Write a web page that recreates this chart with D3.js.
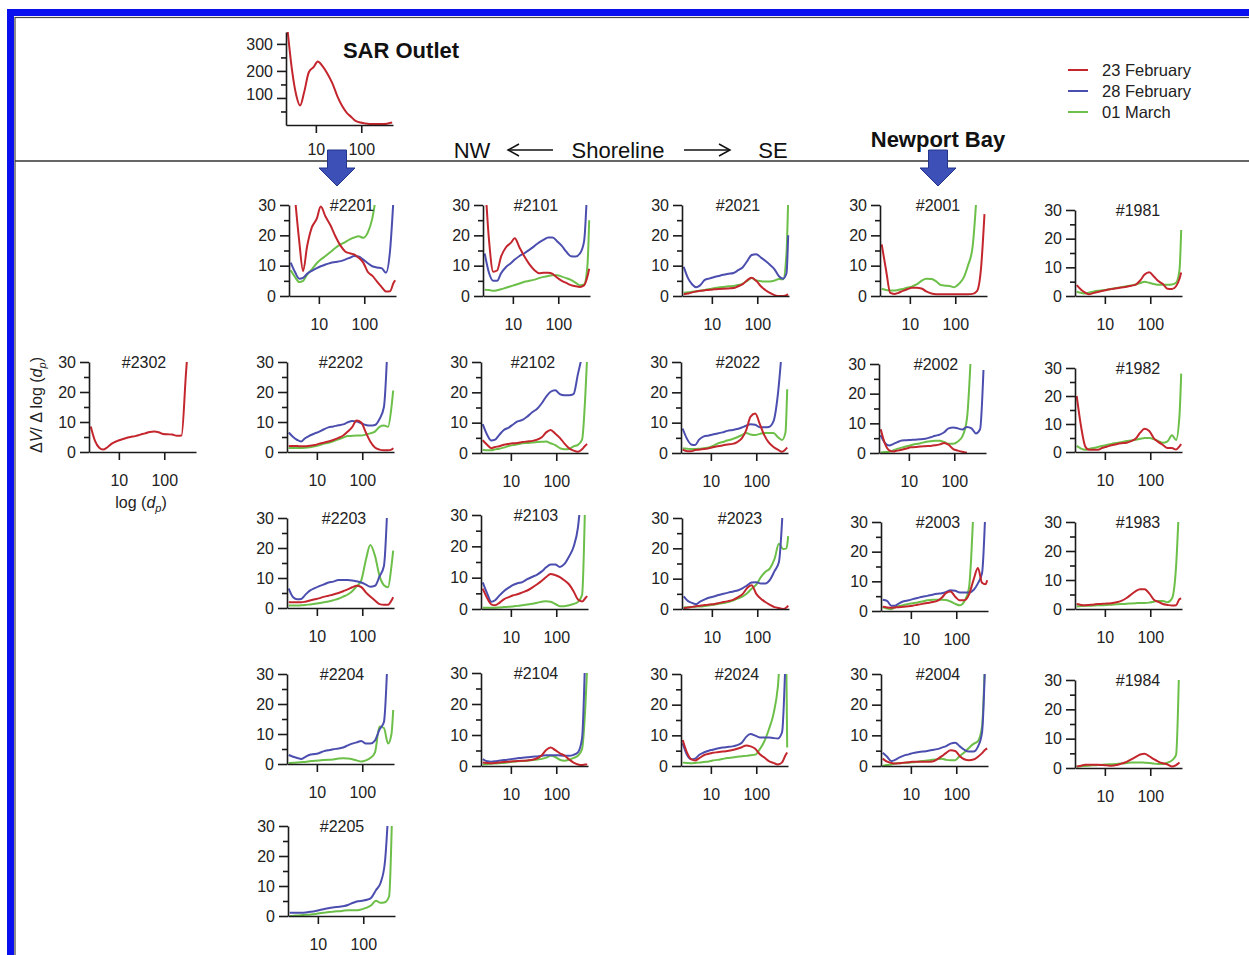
<!DOCTYPE html>
<html>
<head>
<meta charset="utf-8">
<script src="https://cdn.jsdelivr.net/npm/d3@7"></script>
<style>
  body { margin: 0; background: #fff; }
  svg { display: block; font-family: "Liberation Sans", Arial, sans-serif; }
</style>
</head>
<body>
<div id="chart"></div>
<script>
// particle diameter grid (nm), shared by every panel
const sizes = [2.4, 3, 3.7, 4.5, 5.5, 7, 9, 11, 14, 18, 23, 30, 38, 48, 60, 75, 95, 120, 150, 190, 240, 300, 370, 440, 480];
const dates = ["23 February", "28 February", "01 March"];
const xTicks = [10, 100];
const yTicks = [0, 10, 20, 30];
const yMinor = [5, 15, 25];
const sarTicks = [100, 200, 300];
const sarMinor = [50, 150, 250];

// SAR outlet (23 February only)
const sar = [345, 200, 110, 72, 120, 195, 215, 235, 218, 190, 155, 105, 70, 45, 30, 15, 9, 6, 4, 3.5, 3.5, 4, 5, 8, 9];

// each station: [23 Feb, 28 Feb, 01 Mar]
const st2302 = [
  [8.5, 3.6, 1.4, 0.8, 1.5, 2.8, 3.6, 4.1, 4.6, 5, 5.3, 5.8, 6.2, 6.7, 6.8, 6.6, 6, 5.9, 5.8, 5.4, 5.5, 26, 45, null, null],
  null, null];

const st2201 = [
  [null, 32, 18, 8.2, 16.3, 22.6, 25.5, 29.5, 26.2, 23.3, 19.8, 16.6, 14.7, 14.1, 13.7, 12.6, 11, 7.9, 6.7, 4.8, 3, 1.5, 1.6, 4.3, 5.2],
  [11, 7.8, 5.7, 6, 7.3, 8.3, 9.2, 9.8, 10.4, 10.9, 11.2, 11.5, 12, 12.6, 13.2, 13, 12, 10.8, 9.8, 9.4, 9.2, 7.7, 15, 32, null],
  [8.5, 6.2, 4.6, 5, 7, 8.8, 10.8, 12, 13.2, 14.5, 15.8, 17, 17.8, 18.7, 19.3, 19.7, 19.2, 21, 25.5, 35, null, null, null, null, null]];
const st2202 = [
  [2, 2, 2, 1.9, 1.9, 2.1, 2.3, 2.7, 3.1, 3.5, 4, 4.7, 5.5, 6.8, 8.3, 10.5, 9.8, 6.5, 3.5, 1.5, 0.8, 0.6, 0.6, 0.8, 1.3],
  [6.5, 5, 4, 3.5, 4.6, 5.5, 6.2, 6.7, 7.5, 8.2, 8.5, 8.9, 9.2, 9.9, 10.3, 10.2, 9.6, 9, 8.8, 9, 11, 15, 40, null, null],
  [1.3, 1.3, 1.3, 1.3, 1.4, 1.6, 1.9, 2.2, 2.7, 3.1, 3.6, 4.2, 4.8, 5.3, 5.4, 5.5, 5.5, 5.8, 6.2, 6.8, 8.4, 8.8, 8.4, 15, 20.5]];
const st2203 = [
  [1.9, 1.9, 1.9, 1.9, 2.1, 2.5, 2.9, 3.2, 3.7, 4.1, 4.5, 5, 5.6, 6.2, 6.9, 7.4, 7, 5.2, 3.8, 2.5, 1.3, 1.1, 1.1, 2.5, 3.6],
  [6.5, 3.6, 2.9, 3, 4.3, 5.8, 6.6, 7.2, 7.8, 8.5, 8.8, 9.3, 9.3, 9.3, 9.2, 8.9, 8.5, 7.8, 7.1, 7.4, 10.5, 14, 40, null, null],
  [0.8, 0.8, 0.8, 0.9, 1, 1.2, 1.4, 1.6, 1.9, 2.2, 2.6, 3.1, 3.8, 4.5, 5.6, 7.2, 9.2, 16, 21, 17.5, 10.7, 7.6, 6.9, 14, 19.1]];
const st2204 = [
  null,
  [3, 2.4, 2, 1.7, 2.3, 3.1, 3.3, 3.6, 4.2, 4.6, 4.9, 5.2, 5.5, 6.2, 6.8, 7.2, 7.7, 6.8, 6.8, 7.8, 11.5, 14, 40, null, null],
  [0.3, 0.4, 0.5, 0.6, 0.7, 0.9, 1.1, 1.2, 1.3, 1.4, 1.5, 1.8, 1.9, 1.8, 1.6, 1.2, 0.8, 1.2, 2, 3.8, 12.5, 12, 6.8, 10, 18]];
const st2205 = [
  null,
  [1.1, 1.1, 1.1, 1.1, 1.2, 1.4, 1.7, 2, 2.3, 2.7, 2.9, 3.1, 3.3, 3.8, 4.4, 4.9, 5.1, 5.4, 6.1, 8.6, 11, 18, 40, null, null],
  [0, 0.1, 0.2, 0.3, 0.4, 0.5, 0.7, 0.9, 1.1, 1.3, 1.5, 1.6, 1.8, 1.9, 1.9, 1.9, 2.3, 2.8, 3.6, 5.1, 4.4, 4.6, 6.5, 40, null]];

const st2101 = [
  [40, 18, 8, 8.4, 13, 16, 17.5, 19, 16, 13, 10.5, 8.5, 7.5, 7.7, 7.7, 7.3, 6, 5, 4.3, 3.6, 3.2, 3, 3.5, 6.5, 9],
  [14, 7.5, 5, 5, 7.5, 9.5, 10.8, 12, 13.2, 14.1, 15.2, 16.5, 17.7, 18.6, 19.3, 19.3, 18, 16.5, 14.6, 13.1, 13, 14, 18, 38, null],
  [2.1, 2, 1.7, 1.9, 2.2, 2.7, 3.2, 3.6, 4.1, 4.7, 5, 5.4, 5.9, 6.3, 6.6, 6.8, 6.8, 6.4, 5.9, 5.3, 4.4, 3.5, 3.8, 10.3, 25]];
const st2102 = [
  [4.2, 2.7, 1.6, 2, 2.2, 2.7, 3, 3.2, 3.3, 3.6, 3.8, 4, 4.4, 5.2, 6.8, 7.6, 6.4, 5, 3.2, 1.6, 0.8, 0.4, 1.2, 2.5, 2.9],
  [9.5, 6, 4.1, 4.4, 5.9, 7.6, 8.4, 9.3, 10.4, 10.9, 12, 13.5, 14.6, 16.4, 18.6, 20.2, 20.7, 19.4, 19, 19, 19.4, 26, 32, null, null],
  [1.1, 0.9, 0.9, 1.2, 1.4, 1.8, 2.3, 2.6, 2.9, 3.2, 3.3, 3.5, 3.6, 3.7, 3.8, 3.2, 2.6, 1.6, 1.2, 1.3, 2.2, 2.7, 4.4, 20, 32]];
const st2103 = [
  [6.5, 3.5, 1.5, 1.2, 1.9, 3.1, 3.8, 4.3, 4.7, 5.3, 5.9, 6.9, 7.9, 9, 10.2, 11.2, 10.8, 10.2, 9.2, 7.9, 5.7, 3, 2.4, 3.5, 4.1],
  [8.5, 5, 2.3, 2.8, 4.2, 5.7, 6.8, 7.6, 8.2, 8.6, 9.5, 10.3, 11, 12, 13.3, 14.2, 14.2, 13.4, 14.3, 16.7, 19.8, 26, 40, null, null],
  [0.4, 0.4, 0.4, 0.4, 0.5, 0.6, 0.7, 0.8, 1, 1.2, 1.4, 1.7, 2, 2.3, 2.5, 2.3, 1.6, 0.9, 0.9, 1.2, 1.6, 2.2, 4.5, 40, null]];
const st2104 = [
  [1.1, 1, 0.9, 1, 1.1, 1.3, 1.4, 1.5, 1.6, 1.7, 1.8, 2, 2.5, 3.5, 5.2, 6, 5.1, 4.1, 3.4, 2.2, 1.1, 0.5, 0.3, 0.5, 0.5],
  [2.2, 1.5, 1.4, 1.5, 1.7, 1.9, 2.1, 2.3, 2.5, 2.7, 2.8, 3, 3.1, 3.3, 3.5, 3.5, 3.5, 3.4, 3.3, 3.3, 3.6, 4.4, 9, 40, null],
  [0.5, 0.6, 0.7, 0.8, 0.9, 1, 1.2, 1.4, 1.5, 1.6, 1.7, 1.9, 2.1, 2.3, 2.7, 3.3, 2.9, 2, 1.7, 2, 2.6, 3.3, 5.5, 20, 32]];

const st2021 = [
  [0.6, 0.8, 1.2, 1.5, 1.7, 1.9, 2.1, 2.2, 2.3, 2.4, 2.5, 2.6, 3.2, 3.9, 5.2, 6, 5, 3.2, 2, 1, 0.3, 0, 0, 0.3, 0.5],
  [9.6, 5.8, 3.8, 2.9, 3.5, 5.3, 5.8, 6.2, 6.6, 7, 7.3, 7.6, 8.5, 9.5, 11.5, 13.5, 13.8, 12.7, 11.6, 10.3, 8.8, 6.5, 5.7, 7.5, 20],
  [1.1, 1.2, 1.4, 1.6, 1.7, 2, 2.3, 2.6, 2.8, 3, 3.2, 3.3, 3.6, 4.1, 5, 5.9, 5.1, 4.9, 4.8, 4.8, 5.1, 5.6, 5.5, 14, 32]];
const st2022 = [
  [1.1, 0.6, 0.6, 1, 1.1, 1.3, 1.6, 1.9, 2.2, 2.5, 2.8, 3, 3.6, 4.8, 7.5, 12, 13, 9.5, 5.9, 3.4, 2, 1.1, 0.4, 1.2, 1.8],
  [8, 4.6, 2.8, 2.6, 4.4, 5.5, 5.8, 6.1, 6.4, 6.8, 7.3, 7.6, 7.9, 8.4, 9, 9.5, 9.3, 8.5, 8.5, 8.6, 10.5, 19.5, 35, null, null],
  [1.5, 1.4, 1.3, 1.3, 1.4, 1.6, 1.8, 2.3, 3.1, 3.6, 4.1, 4.6, 5.2, 5.9, 6.6, 6.1, 5.9, 6.3, 6.6, 6.6, 6.6, 5.2, 4.3, 6.8, 21]];
const st2023 = [
  [0.3, 0.5, 0.7, 0.9, 1.1, 1.3, 1.5, 1.6, 1.9, 2.3, 2.6, 3.1, 3.9, 5, 6.9, 7.8, 5, 3.4, 2.3, 1.4, 0.6, 0.3, 0, 0.5, 1.1],
  [4.2, 2.6, 2, 1.6, 2.4, 3.2, 3.8, 4.1, 4.6, 5, 5.4, 5.8, 6.2, 6.9, 7.8, 8.7, 8.8, 8.4, 8.4, 9.6, 12.5, 15.5, 35, null, null],
  [0.5, 0.6, 0.7, 0.8, 0.8, 1, 1.2, 1.4, 1.7, 2, 2.3, 2.9, 3.5, 4.2, 5.2, 6.7, 8, 10.5, 12.2, 13.4, 16.5, 21.5, 19.8, 20, 24]];
const st2024 = [
  [8.5, 4.3, 2.2, 1.8, 2.5, 3.5, 4, 4.3, 4.5, 4.7, 4.9, 5.2, 5.6, 6.1, 6.7, 6.4, 5.6, 3.8, 2.8, 1.6, 1, 0.5, 1.2, 3.5, 4.4],
  [7.4, 3.6, 2.2, 2.4, 3.6, 4.4, 5, 5.3, 5.7, 6, 6.2, 6.4, 6.8, 7.6, 9.5, 10.4, 9.9, 9.3, 9.3, 9.3, 9.1, 9, 11, 35, null],
  [1.1, 1, 0.9, 1, 1.1, 1.3, 1.5, 1.8, 2, 2.3, 2.6, 2.8, 3, 3.2, 3.3, 3.5, 3.7, 5.5, 8, 12, 17, 26, 45, 45, 6]];

const st2001 = [
  [17, 8.4, 1, 0.7, 1, 1.7, 2.3, 2.7, 2.7, 2.5, 1.5, 0.8, 0.6, 0.6, 0.6, 0.6, 0.6, 0.6, 0.6, 0.6, 0.7, 1.6, 9.3, 27, null],
  null,
  [2.4, 2, 1.8, 1.8, 2, 2.3, 2.8, 3.1, 3.8, 5, 5.7, 5.6, 4.8, 3.6, 3.4, 3.3, 2.9, 4, 5.8, 10, 16, 35, null, null, null]];
const st2002 = [
  [8, 3, 0.9, 0.5, 0.8, 1.1, 1.5, 1.9, 2, 2.2, 2.3, 2.4, 2.6, 2.9, 3.4, 2.8, 1.3, 0.8, 0.4, 0.1, null, null, null, null, null],
  [6, 3.3, 2.5, 3, 3.6, 4.2, 4.3, 4.4, 4.5, 4.6, 4.8, 5.3, 5.8, 6.2, 7, 8.3, 8.6, 8.3, 7.9, 8.8, 8.3, 6.6, 8, 28, null],
  [0.2, 0.3, 0.4, 0.9, 1.4, 1.8, 2.3, 2.6, 3, 3.3, 3.7, 4, 4.1, 4.1, 3.7, 3.1, 3.1, 3.9, 5.5, 11.5, 38, null, null, null, null]];
const st2003 = [
  [1.4, 1.2, 1.1, 1.2, 1.3, 1.4, 1.6, 1.8, 2.1, 2.4, 2.7, 3, 3.4, 4.5, 6.1, 6.6, 4.8, 3.6, 3.6, 5.5, 10.5, 14.5, 9.5, 9, 10.4],
  [3.8, 3.4, 1.8, 1.8, 2.6, 3.3, 3.6, 4, 4.4, 4.8, 5.1, 5.5, 5.8, 6, 6.4, 7, 6.8, 6.2, 6.2, 6.2, 7.1, 9.3, 12.8, 35, null],
  [1.3, 0.8, 0.6, 1.2, 1.7, 2, 2.4, 2.6, 2.9, 3.2, 3.6, 3.8, 3.8, 3.8, 3.7, 3.2, 2.4, 1.9, 3.2, 7.6, 35, null, null, null, null]];
const st2004 = [
  [2.4, 1.4, 1, 0.8, 0.9, 1.1, 1.2, 1.4, 1.4, 1.4, 1.4, 1.5, 2.2, 3.2, 4.3, 5.1, 4.9, 3.2, 2.2, 1.9, 2.1, 3, 4.2, 5.4, 5.7],
  [4.3, 3, 1.6, 2, 2.7, 3.4, 3.8, 4.2, 4.5, 4.7, 4.9, 5.2, 5.5, 6, 6.5, 7.3, 7.6, 6.4, 5.3, 4.7, 4.7, 6.3, 11, 38, null],
  [0, 0.3, 0.5, 0.8, 0.9, 1, 1.1, 1.2, 1.4, 1.6, 1.8, 2, 2.2, 2.4, 2, 1.9, 1.9, 3.3, 4.4, 5.9, 7.2, 8.1, 13, 40, null]];

const st1981 = [
  [3.8, 2.2, 1.2, 0.6, 1, 1.4, 1.8, 2.1, 2.4, 2.7, 3, 3.2, 3.6, 4, 5.4, 7.5, 8.3, 6.8, 5.2, 4.2, 2.5, 2.4, 3.4, 6, 8.2],
  null,
  [1.5, 1.1, 0.9, 1.2, 1.5, 1.8, 2, 2.2, 2.5, 2.8, 3.1, 3.4, 3.7, 4, 4.5, 5, 4.6, 4.2, 3.9, 3.9, 3.9, 4, 4.6, 9, 23]];
const st1982 = [
  [20, 9, 2, 0.8, 0.8, 0.8, 1.5, 1.9, 2.4, 2.8, 3.1, 3.3, 3.9, 4.8, 6.9, 8.3, 7.5, 4.9, 3.6, 2.5, 1.4, 1.4, 0.9, 2, 2.8],
  null,
  [2.2, 1.2, 0.8, 1.1, 1.4, 1.8, 2.2, 2.5, 2.9, 3.2, 3.5, 3.9, 4.1, 4.4, 4.7, 5, 5, 4.6, 3.9, 3.3, 3.8, 6, 4.3, 13, 28]];
const st1983 = [
  [1.7, 1.4, 1.3, 1.4, 1.5, 1.7, 1.8, 1.9, 2, 2.3, 2.8, 3.8, 5, 6.2, 6.8, 6.8, 5.4, 3.2, 2.5, 1.7, 1.4, 1.2, 1.3, 3.4, 3.6],
  null,
  [0.9, 1, 1.1, 1.1, 1.2, 1.3, 1.3, 1.4, 1.5, 1.6, 1.7, 1.8, 1.9, 2, 2.1, 2.1, 2.2, 2.5, 2.8, 2.8, 2.3, 3.6, 14.6, 40, null]];
const st1984 = [
  [0.5, 0.8, 1.1, 1.1, 1.1, 1.1, 1, 0.9, 0.8, 1, 1.5, 2.1, 2.9, 3.8, 4.6, 4.9, 4, 3, 2.2, 1.6, 1.2, 0.5, 1, 1.9, null],
  null,
  [0.5, 0.6, 0.7, 0.8, 0.9, 1, 1.1, 1.2, 1.3, 1.4, 1.5, 1.7, 1.9, 1.9, 1.9, 1.8, 1.7, 1.5, 1.4, 1.4, 1.8, 2.6, 4.5, 40, null]];

// where each panel sits: y-axis x, pixel of 30, pixel of 0, title centre
const panels = [
  { name: "#2302", v: st2302, x: 89,   top: 362, bot: 452, tx: 144 },
  { name: "#2201", v: st2201, x: 289,  top: 205, bot: 296, tx: 352 },
  { name: "#2202", v: st2202, x: 287,  top: 362, bot: 452, tx: 341 },
  { name: "#2203", v: st2203, x: 287,  top: 518, bot: 608, tx: 344 },
  { name: "#2204", v: st2204, x: 287,  top: 674, bot: 764, tx: 342 },
  { name: "#2205", v: st2205, x: 288,  top: 826, bot: 916, tx: 342 },
  { name: "#2101", v: st2101, x: 483,  top: 205, bot: 296, tx: 536 },
  { name: "#2102", v: st2102, x: 481,  top: 362, bot: 453, tx: 533 },
  { name: "#2103", v: st2103, x: 481,  top: 515, bot: 609, tx: 536 },
  { name: "#2104", v: st2104, x: 481,  top: 673, bot: 766, tx: 536 },
  { name: "#2021", v: st2021, x: 682,  top: 205, bot: 296, tx: 738 },
  { name: "#2022", v: st2022, x: 681,  top: 362, bot: 453, tx: 738 },
  { name: "#2023", v: st2023, x: 682,  top: 518, bot: 609, tx: 740 },
  { name: "#2024", v: st2024, x: 681,  top: 674, bot: 766, tx: 737 },
  { name: "#2001", v: st2001, x: 880,  top: 205, bot: 296, tx: 938 },
  { name: "#2002", v: st2002, x: 879,  top: 364, bot: 453, tx: 936 },
  { name: "#2003", v: st2003, x: 881,  top: 522, bot: 611, tx: 938 },
  { name: "#2004", v: st2004, x: 881,  top: 674, bot: 766, tx: 938 },
  { name: "#1981", v: st1981, x: 1075, top: 210, bot: 296, tx: 1138 },
  { name: "#1982", v: st1982, x: 1075, top: 368, bot: 452, tx: 1138 },
  { name: "#1983", v: st1983, x: 1075, top: 522, bot: 609, tx: 1138 },
  { name: "#1984", v: st1984, x: 1075, top: 680, bot: 768, tx: 1138 }
];

const colors = ["#c4262e", "#4b4eae", "#6cbf48"];
const W = 1249, H = 955;
const xDomain = [2.2, 500];
const xWidth = 107;

const svg = d3.select("#chart").append("svg")
    .attr("width", W)
    .attr("height", H);

svg.append("rect").attr("width", W).attr("height", H).attr("fill", "#fff");

// blue frame + thin inner line
svg.append("rect")
    .attr("x", 10.5).attr("y", 12.5)
    .attr("width", 1300).attr("height", 1000)
    .attr("fill", "none").attr("stroke", "#0a0ff0").attr("stroke-width", 7);
svg.append("rect")
    .attr("x", 15).attr("y", 17.5)
    .attr("width", 1300).attr("height", 1000)
    .attr("fill", "none").attr("stroke", "#444").attr("stroke-width", 1.2);

// divider under the top strip
svg.append("line")
    .attr("x1", 15).attr("x2", W)
    .attr("y1", 161).attr("y2", 161)
    .attr("stroke", "#333").attr("stroke-width", 1.5);

function styleAxis(g) {
    g.selectAll("path, line").attr("stroke", "#1a1a1a").attr("stroke-width", 1.6);
    g.selectAll("text").attr("fill", "#222").attr("font-size", 16);
}

function drawAxes(g, x, y, yt, ym) {
    const xa = g.append("g")
        .attr("transform", "translate(0," + y.range()[0] + ")")
        .call(d3.axisBottom(x).tickValues(xTicks).tickSize(8).tickSizeOuter(0)
            .tickPadding(15).tickFormat(d3.format("d")));
    styleAxis(xa);
    const ya = g.append("g")
        .attr("transform", "translate(" + x.range()[0] + ",0)")
        .call(d3.axisLeft(y).tickValues(yt).tickSize(9).tickSizeOuter(0).tickPadding(4));
    styleAxis(ya);
    const yb = g.append("g")
        .attr("transform", "translate(" + x.range()[0] + ",0)")
        .call(d3.axisLeft(y).tickValues(ym).tickSize(5).tickFormat(""));
    yb.select(".domain").remove();
    styleAxis(yb);
}

function drawSeries(g, x, y, values, color, clipId) {
    const line = d3.line()
        .defined(d => d[1] != null)
        .x(d => x(d[0]))
        .y(d => y(d[1]))
        .curve(d3.curveMonotoneX);
    g.append("path")
        .datum(sizes.map((d, j) => [d, values[j]]))
        .attr("d", line)
        .attr("fill", "none")
        .attr("stroke", color)
        .attr("stroke-width", 2)
        .attr("stroke-linejoin", "round")
        .attr("clip-path", "url(#" + clipId + ")");
}

// small multiples
panels.forEach((p, k) => {
    const x = d3.scaleLog().domain(xDomain).range([p.x, p.x + xWidth]);
    const y = d3.scaleLinear().domain([0, 30]).range([p.bot, p.top]);
    const g = svg.append("g");
    const clipId = "clip" + k;
    g.append("clipPath").attr("id", clipId).append("rect")
        .attr("x", p.x).attr("y", p.top)
        .attr("width", xWidth + 4).attr("height", p.bot - p.top + 6);

    // green under blue under red
    [2, 1, 0].forEach(i => {
        if (p.v[i]) drawSeries(g, x, y, p.v[i], colors[i], clipId);
    });
    drawAxes(g, x, y, yTicks, yMinor);

    g.append("text")
        .attr("x", p.tx).attr("y", p.top)
        .attr("dy", "0.35em")
        .attr("text-anchor", "middle")
        .attr("font-size", 16).attr("fill", "#222")
        .text(p.name);
});

// SAR outlet panel
(function () {
    const x = d3.scaleLog().domain(xDomain).range([286, 286 + xWidth]);
    const y = d3.scaleLinear().domain([0, 344]).range([125, 32]);
    const g = svg.append("g");
    g.append("clipPath").attr("id", "clipSar").append("rect")
        .attr("x", 286).attr("y", 32).attr("width", xWidth + 4).attr("height", 99);
    drawSeries(g, x, y, sar, colors[0], "clipSar");
    drawAxes(g, x, y, sarTicks, sarMinor);
    g.selectAll("text").filter(d => d === 10 || d === 100)
        .attr("transform", "translate(0,-4)");
})();

// titles
svg.append("text").attr("x", 401).attr("y", 50).attr("dy", "0.35em")
    .attr("text-anchor", "middle").attr("font-size", 22).attr("font-weight", "bold")
    .attr("fill", "#111").text("SAR Outlet");
svg.append("text").attr("x", 938).attr("y", 139).attr("dy", "0.35em")
    .attr("text-anchor", "middle").attr("font-size", 22).attr("font-weight", "bold")
    .attr("fill", "#111").text("Newport Bay");

// NW <- Shoreline -> SE
const shoreY = 150;
svg.append("text").attr("x", 472).attr("y", shoreY).attr("dy", "0.35em")
    .attr("text-anchor", "middle").attr("font-size", 22).attr("fill", "#111").text("NW");
svg.append("text").attr("x", 618).attr("y", shoreY).attr("dy", "0.35em")
    .attr("text-anchor", "middle").attr("font-size", 22).attr("fill", "#111").text("Shoreline");
svg.append("text").attr("x", 773).attr("y", shoreY).attr("dy", "0.35em")
    .attr("text-anchor", "middle").attr("font-size", 22).attr("fill", "#111").text("SE");
const arrowStyle = sel => sel.attr("fill", "none").attr("stroke", "#111").attr("stroke-width", 1.5);
svg.append("line").attr("x1", 508).attr("x2", 553).attr("y1", shoreY).attr("y2", shoreY).call(arrowStyle);
svg.append("polyline").attr("points", "519,144 508,150 519,156").call(arrowStyle);
svg.append("line").attr("x1", 684).attr("x2", 730).attr("y1", shoreY).attr("y2", shoreY).call(arrowStyle);
svg.append("polyline").attr("points", "719,144 730,150 719,156").call(arrowStyle);

// block arrows pointing down
[337, 938].forEach(cx => {
    svg.append("path")
        .attr("d", "M" + (cx - 9.5) + ",150 h19 v18 h8.5 l-18,18 l-18,-18 h8.5 z")
        .attr("fill", "#3c50b8").attr("stroke", "#23348a").attr("stroke-width", 1);
});

// legend
dates.forEach((d, i) => {
    const ly = 70 + i * 21;
    svg.append("line").attr("x1", 1068).attr("x2", 1088).attr("y1", ly).attr("y2", ly)
        .attr("stroke", colors[i]).attr("stroke-width", 2);
    svg.append("text").attr("x", 1102).attr("y", ly).attr("dy", "0.35em")
        .attr("font-size", 16.5).attr("fill", "#222").text(d);
});

// axis titles on #2302
const yl = svg.append("text")
    .attr("transform", "translate(42,405) rotate(-90)")
    .attr("text-anchor", "middle").attr("font-size", 16).attr("fill", "#222");
yl.append("tspan").text("\u0394");
yl.append("tspan").attr("font-style", "italic").text("V");
yl.append("tspan").text("/ \u0394 log (");
yl.append("tspan").attr("font-style", "italic").text("d");
yl.append("tspan").attr("font-style", "italic").attr("font-size", 11).attr("dy", 4).text("p");
yl.append("tspan").attr("dy", -4).text(")");

const xl = svg.append("text")
    .attr("x", 141).attr("y", 502).attr("dy", "0.35em")
    .attr("text-anchor", "middle").attr("font-size", 16).attr("fill", "#222");
xl.append("tspan").text("log (");
xl.append("tspan").attr("font-style", "italic").text("d");
xl.append("tspan").attr("font-style", "italic").attr("font-size", 11).attr("dy", 4).text("p");
xl.append("tspan").attr("dy", -4).text(")");
</script>
</body>
</html>
